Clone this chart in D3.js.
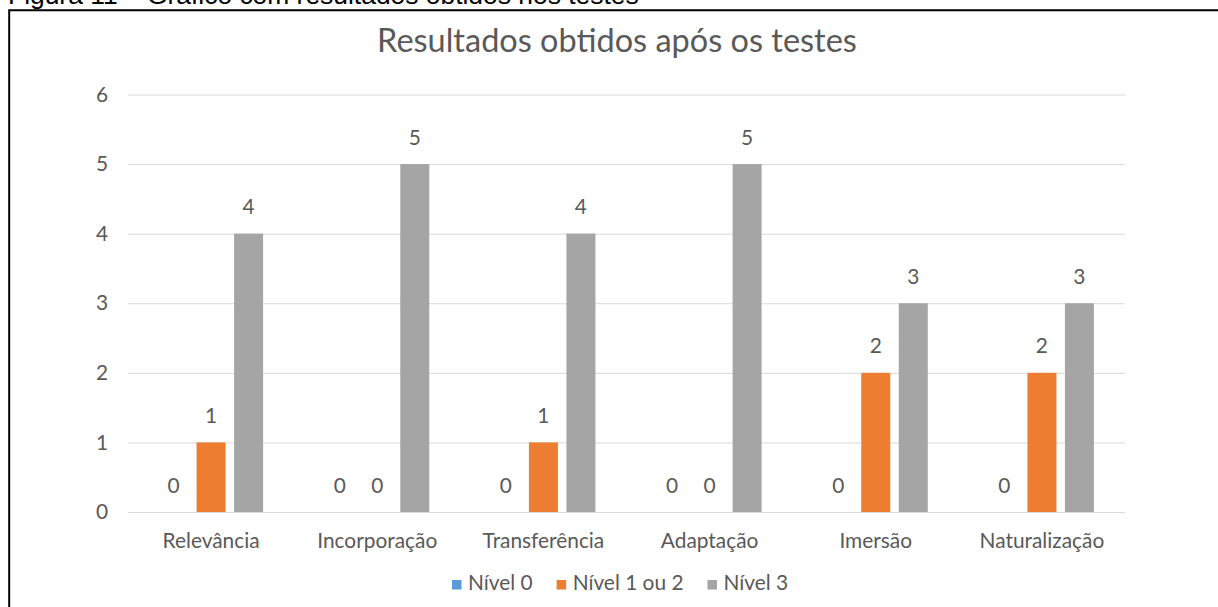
<!DOCTYPE html>
<html><head><meta charset="utf-8">
<script src="https://cdn.jsdelivr.net/npm/d3@7"></script>
<style>body{margin:0;background:#fff} svg{display:block}</style>
</head><body>
<svg id="c" width="1218" height="607"></svg>
<script>
const categories = ["Relevância","Incorporação","Transferência","Adaptação","Imersão","Naturalização"];
const seriesNames = ["Nível 0","Nível 1 ou 2","Nível 3"];
const nivel0 = [0,0,0,0,0,0];
const nivel12 = [1,0,1,0,2,2];
const nivel3 = [4,5,4,5,3,3];
const yTicks = [0,1,2,3,4,5,6];
const colors = ["#5B9BD5","#ED7D31","#A5A5A5"];
const titleText = "Resultados obtidos após os testes";
const captionText = "Figura 11 – Gráfico com resultados obtidos nos testes";

const seriesValues = [nivel0, nivel12, nivel3];
const rows = categories.map((c,i)=>({cat:c, vals: seriesNames.map((s,j)=>({s, j, v: seriesValues[j][i]}))}));

const svg = d3.select("#c");
const FONT = "Lato, 'Open Sans', sans-serif";
const TXT = "#595959";

// fit helper
function fitSize(text, family, target){
  const t = svg.append("text").attr("font-family", family).attr("font-size", 100).text(text);
  const w = t.node().getComputedTextLength(); t.remove();
  return 100*target/w;
}
const baseSize = fitSize("Incorporação", FONT, 120);
const titleSize = fitSize(titleText, FONT, 480);
const capSize = fitSize("Figura 11 – Gráfico com resultados obtido", "'Liberation Sans', Arial, sans-serif", 490);

// caption (cut off at top)
svg.append("text").attr("x", 8).attr("y", 3.5)
  .attr("font-family","'Liberation Sans', Arial, sans-serif").attr("font-size", capSize)
  .attr("fill","#000").text(captionText);

// frame
svg.append("path").attr("d","M9.2,607 V10.2 H1218").attr("fill","none").attr("stroke","#000").attr("stroke-width",2);

const x0 = d3.scaleBand().domain(categories).range([128,1125]).paddingInner(0).paddingOuter(0);
const x1 = d3.scaleBand().domain(seriesNames).range([0, x0.bandwidth()]).paddingInner(0.227).paddingOuter(0.828);
const y = d3.scaleLinear().domain([0,6]).range([512,94.5]);

// grid + y axis
const gy = svg.append("g").attr("transform","translate(128,0)")
  .call(d3.axisLeft(y).tickValues(yTicks).tickSize(-(1125-128)).tickPadding(20).tickFormat(d3.format("d")));
gy.select(".domain").remove();
gy.selectAll(".tick line").attr("stroke","#D9D9D9");
gy.selectAll(".tick text").attr("font-family",FONT).attr("font-size",baseSize).attr("fill",TXT);

// x axis labels
const gx = svg.append("g").attr("transform","translate(0,512)")
  .call(d3.axisBottom(x0).tickSize(0).tickPadding(0));
gx.select(".domain").remove();
gx.selectAll(".tick text").attr("font-family",FONT).attr("font-size",baseSize).attr("fill",TXT)
  .attr("y",36).attr("dy",0);

// bars
const g = svg.append("g").selectAll("g").data(rows).join("g")
  .attr("transform", d=>`translate(${x0(d.cat)},0)`);
g.selectAll("rect").data(d=>d.vals).join("rect")
  .attr("x", d=>x1(d.s)).attr("width", x1.bandwidth())
  .attr("y", d=>y(d.v)).attr("height", d=>y(0)-y(d.v))
  .attr("fill", d=>colors[d.j]);
g.selectAll("text").data(d=>d.vals).join("text")
  .attr("x", d=>x1(d.s)+x1.bandwidth()/2).attr("y", d=>y(d.v)-19.5)
  .attr("text-anchor","middle").attr("font-family",FONT).attr("font-size",baseSize).attr("fill",TXT)
  .text(d=>d.v);

// title
svg.append("text").attr("x",617).attr("y",52).attr("text-anchor","middle")
  .attr("font-family",FONT).attr("font-size",titleSize).attr("fill",TXT).text(titleText);

// legend
const lg = svg.append("g");
let lx = 452;
seriesNames.forEach((s,j)=>{
  lg.append("rect").attr("x",lx).attr("y",580).attr("width",9.5).attr("height",9.5).attr("fill",colors[j]);
  const t = lg.append("text").attr("x",lx+16).attr("y",590).attr("font-family",FONT).attr("font-size",baseSize).attr("fill",TXT).text(s);
  lx = lx + 16 + t.node().getComputedTextLength() + 24;
});
</script>
</body></html>
